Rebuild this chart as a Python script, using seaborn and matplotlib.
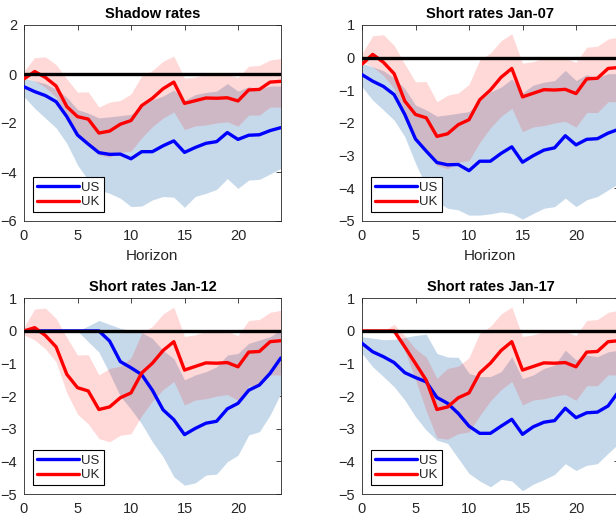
import numpy as np
import pandas as pd
import matplotlib
matplotlib.use("Agg")
import matplotlib.pyplot as plt
import seaborn as sns

horizon = list(range(25))

# ---- US, shadow rates / Jan-07 ----
us_shadow = [-0.52, -0.72, -0.88, -1.13, -1.74, -2.49, -2.86, -3.21, -3.28, -3.27, -3.46, -3.17, -3.17,
             -2.93, -2.73, -3.20, -3.00, -2.83, -2.76, -2.39, -2.67, -2.50, -2.48, -2.31, -2.19]
us_shadow_hi = [-0.17, -0.28, -0.40, -0.62, -0.95, -1.45, -1.60, -1.79, -1.75, -1.70, -1.65, -1.33, -1.05,
                -0.90, -0.65, -1.08, -0.84, -0.75, -0.70, -0.39, -0.70, -0.52, -0.61, -0.49, -0.49]
us_shadow_lo = [-0.93, -1.40, -1.80, -2.20, -2.83, -3.71, -4.33, -4.73, -4.87, -5.07, -5.41, -5.39, -5.14,
                -5.00, -5.03, -5.44, -5.00, -4.87, -4.71, -4.27, -4.67, -4.33, -4.30, -4.08, -3.85]
us_jan07_lo = [-0.89, -1.30, -1.60, -1.91, -2.42, -3.23, -3.95, -4.41, -4.61, -4.66, -4.82, -4.82, -4.78,
               -4.72, -4.77, -4.94, -4.77, -4.61, -4.56, -4.30, -4.56, -4.35, -4.25, -4.05, -3.85]

# ---- US, Jan-12 ----
us_jan12 = [0, 0, 0, 0, 0, 0, 0, 0, -0.31, -0.94, -1.13, -1.34, -1.82, -2.42, -2.72, -3.18, -2.99, -2.83,
            -2.77, -2.39, -2.22, -1.82, -1.66, -1.30, -0.83]
us_jan12_hi = [0, 0, 0, 0, 0, 0, 0.15, 0.32, 0.20, 0.08, 0.02, -0.05, -0.23, -0.60, -0.85, -1.50, -1.35,
               -1.25, -1.10, -0.74, -0.69, -0.38, -0.28, -0.18, 0.03]
us_jan12_lo = [0, 0, 0, 0, 0, 0, -0.33, -0.65, -1.30, -2.00, -2.40, -2.85, -3.40, -3.86, -4.47, -4.73,
               -4.66, -4.42, -4.39, -4.01, -3.81, -3.19, -3.09, -2.58, -1.91]

# ---- US, Jan-17 ----
us_jan17 = [-0.38, -0.64, -0.79, -0.97, -1.28, -1.43, -1.56, -2.04, -2.22, -2.53, -2.92, -3.14, -3.14,
            -2.92, -2.71, -3.17, -2.94, -2.80, -2.75, -2.37, -2.66, -2.51, -2.49, -2.30, -1.85]
us_jan17_hi = [-0.18, -0.22, -0.27, -0.26, -0.20, -0.14, -0.10, -0.69, -0.80, -0.81, -1.30, -1.40, -1.40,
               -1.25, -0.79, -1.46, -1.35, -1.15, -1.05, -0.59, -0.89, -0.74, -0.79, -0.64, -0.59]
us_jan17_lo = [-0.69, -1.10, -1.40, -1.71, -2.12, -2.63, -3.04, -3.35, -3.45, -3.91, -4.37, -4.60, -4.78,
               -4.55, -4.60, -4.90, -4.70, -4.56, -4.40, -4.07, -4.28, -4.12, -4.07, -3.75, -3.45]

# ---- UK ----
uk = [-0.20, 0.10, -0.14, -0.49, -1.33, -1.74, -1.84, -2.41, -2.33, -2.05, -1.90, -1.29, -0.99, -0.60,
      -0.33, -1.20, -1.09, -0.98, -0.99, -0.97, -1.10, -0.65, -0.63, -0.33, -0.30]
uk_hi = [0.12, 0.67, 0.70, 0.38, -0.20, -0.74, -0.73, -1.35, -1.15, -1.08, -0.82, -0.07, 0.14, 0.52,
         0.73, -0.17, -0.12, -0.02, 0.02, -0.02, -0.14, 0.32, 0.35, 0.57, 0.63]
uk_lo = [-0.12, -0.28, -0.55, -0.95, -1.90, -2.55, -2.85, -3.30, -3.40, -3.20, -3.15, -2.60, -2.15, -1.80,
         -1.55, -2.27, -2.12, -2.08, -2.00, -1.95, -2.13, -1.68, -1.68, -1.35, -1.35]
uk_jan12 = [0.00, 0.10, -0.14, -0.49, -1.33, -1.74, -1.84, -2.41, -2.33, -2.05, -1.90, -1.29, -0.99, -0.60,
            -0.33, -1.20, -1.09, -0.98, -0.99, -0.97, -1.10, -0.65, -0.63, -0.33, -0.30]
uk_jan17 = [0, 0, 0, 0, -0.49, -1.00, -1.51, -2.41, -2.33, -2.05, -1.90, -1.29, -0.99, -0.60,
            -0.33, -1.20, -1.09, -0.98, -0.99, -0.97, -1.10, -0.65, -0.63, -0.33, -0.30]
uk_jan17_hi = [0, 0, 0, 0.20, -0.15, -0.55, -0.80, -1.45, -1.15, -1.08, -0.82, -0.07, 0.14, 0.52,
               0.73, -0.17, -0.12, -0.02, 0.02, -0.02, -0.14, 0.32, 0.35, 0.57, 0.63]
uk_jan17_lo = [0, 0, 0, 0, -0.60, -1.50, -2.45, -3.28, -3.32, -3.15, -3.10, -2.60, -2.15, -1.80,
               -1.55, -2.27, -2.12, -2.08, -2.00, -1.95, -2.13, -1.68, -1.68, -1.35, -1.35]

titles = ["Shadow rates", "Short rates Jan-07", "Short rates Jan-12", "Short rates Jan-17"]
y_limits = [(-6, 2), (-5, 1), (-5, 1), (-5, 1)]
y_ticks = [[-6, -4, -2, 0, 2], [-5, -4, -3, -2, -1, 0, 1], [-5, -4, -3, -2, -1, 0, 1],
           [-5, -4, -3, -2, -1, 0, 1]]
x_ticks = [0, 5, 10, 15, 20]

panels = [
    (us_shadow, us_shadow_lo, us_shadow_hi, uk, uk_lo, uk_hi),
    (us_shadow, us_jan07_lo, us_shadow_hi, uk, uk_lo, uk_hi),
    (us_jan12, us_jan12_lo, us_jan12_hi, uk_jan12, uk_lo, uk_hi),
    (us_jan17, us_jan17_lo, us_jan17_hi, uk_jan17, uk_jan17_lo, uk_jan17_hi),
]

sns.set_style("white")
plt.rcParams["font.family"] = ["Liberation Sans", "DejaVu Sans"]
gray = "#262626"

fig = plt.figure(figsize=(6.16, 5.15), dpi=100)
W, H = 616.0, 515.0
positions = [
    (24 / W, 1 - 221 / H, 256.8 / W, 196 / H),
    (362 / W, 1 - 221 / H, 256.8 / W, 196 / H),
    (24 / W, 1 - 494 / H, 256.8 / W, 195.7 / H),
    (362 / W, 1 - 494 / H, 256.8 / W, 195.7 / H),
]

blue_band = "#c6d9ea"
for i, (pos, title, ylim, yt, data) in enumerate(zip(positions, titles, y_limits, y_ticks, panels)):
    us_v, us_l, us_h, uk_v, uk_l, uk_h = data
    ax = fig.add_axes(pos)
    df = pd.DataFrame({"h": horizon, "US": us_v, "UK": uk_v,
                       "us_lo": us_l, "us_hi": us_h, "uk_lo": uk_l, "uk_hi": uk_h})
    ax.fill_between(df["h"], df["us_lo"], df["us_hi"], color=blue_band, lw=0, zorder=1)
    ax.fill_between(df["h"], df["uk_lo"], df["uk_hi"], color="#ff1a1a", alpha=0.17, lw=0, zorder=2)
    sns.lineplot(data=df, x="h", y="US", color="#0000ff", lw=2.4, ax=ax, label="US", zorder=3)
    sns.lineplot(data=df, x="h", y="UK", color="#ff0000", lw=2.4, ax=ax, label="UK", zorder=4)
    ax.axhline(0, color="black", lw=2.4, zorder=5)
    ax.set_xlim(0, 24)
    ax.set_ylim(*ylim)
    ax.set_xticks(x_ticks)
    ax.set_yticks(yt)
    ax.tick_params(direction="in", length=3.5, width=0.6, colors=gray, labelsize=10.5,
                   top=True, right=True, pad=5, labelcolor=gray)
    ax.tick_params(axis="x", pad=6)
    for s in ax.spines.values():
        s.set_color(gray)
        s.set_linewidth(0.6)
        s.set_visible(True)
    ax.set_title(title, fontsize=10.5, fontweight="bold", color="black", pad=5)
    ax.set_ylabel("")
    if i < 2:
        ax.set_xlabel("Horizon", fontsize=11, color=gray, labelpad=4)
    else:
        ax.set_xlabel("")
    leg = ax.legend(loc="lower left", fontsize=9.5, frameon=True, fancybox=False,
                    edgecolor="black", handlelength=3.2, handletextpad=0.2,
                    borderpad=0.3, labelspacing=0.2, borderaxespad=0.65)
    leg.get_frame().set_linewidth(0.8)
    leg.get_frame().set_alpha(1)

fig.savefig("out.png", dpi=100)
